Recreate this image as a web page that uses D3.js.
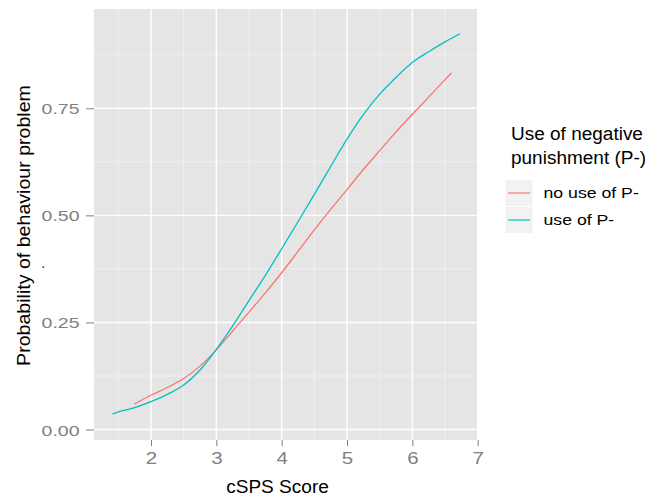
<!DOCTYPE html>
<html>
<head>
<meta charset="utf-8">
<script src="https://cdn.jsdelivr.net/npm/d3@7"></script>
<style>
  html, body { margin: 0; padding: 0; background: #ffffff; }
  svg { display: block; }
  text { font-family: "Liberation Sans", Arial, Helvetica, sans-serif; }
</style>
</head>
<body>
<svg id="chart" width="650" height="498"></svg>
<script>
// ---- data ----
const seriesNames = ["no use of P-", "use of P-"];
const seriesColors = ["#F8766D", "#00BFC4"];

const noUseX = [1.74, 2.0, 2.25, 2.5, 2.75, 3.0, 3.25, 3.5, 3.75, 4.0, 4.25, 4.5, 4.75, 5.0, 5.25, 5.5, 5.75, 6.0, 6.25, 6.5, 6.6];
const noUseY = [0.059, 0.080, 0.098, 0.119, 0.148, 0.186, 0.230, 0.274, 0.319, 0.366, 0.416, 0.466, 0.514, 0.560, 0.607, 0.651, 0.695, 0.736, 0.776, 0.817, 0.833];

const useX = [1.41, 1.5, 1.75, 2.0, 2.25, 2.5, 2.75, 3.0, 3.25, 3.5, 3.75, 4.0, 4.25, 4.5, 4.75, 5.0, 5.25, 5.5, 5.75, 6.0, 6.25, 6.5, 6.73];
const useY = [0.036, 0.041, 0.051, 0.065, 0.082, 0.104, 0.139, 0.187, 0.242, 0.301, 0.360, 0.422, 0.485, 0.549, 0.614, 0.678, 0.735, 0.783, 0.822, 0.857, 0.882, 0.905, 0.924];

const xTicks = [2, 3, 4, 5, 6, 7];
const xMinor = [1.5, 2.5, 3.5, 4.5, 5.5, 6.5];
const yTicks = [0, 0.25, 0.5, 0.75];
const yTickLabels = ["0.00", "0.25", "0.50", "0.75"];
const yMinor = [0.125, 0.375, 0.625, 0.875];

const xTitle = "cSPS Score";
const yTitle = "Probability of behaviour problem";
const legendTitle = ["Use of negative", "punishment (P-)"];

// ---- layout ----
const panel = { left: 94, right: 478, top: 9, bottom: 440 };
const svg = d3.select("#chart");

const x = d3.scaleLinear().domain([1.1275, 7.005]).range([panel.left, panel.right]);
const y = d3.scaleLinear().domain([-0.0245, 0.9818]).range([panel.bottom, panel.top]);

// panel background
svg.append("rect")
  .attr("x", panel.left).attr("y", panel.top)
  .attr("width", panel.right - panel.left).attr("height", panel.bottom - panel.top)
  .attr("fill", "#E5E5E5");

// minor grid
svg.append("g").selectAll("line").data(xMinor).join("line")
  .attr("x1", d => x(d)).attr("x2", d => x(d))
  .attr("y1", panel.top).attr("y2", panel.bottom)
  .attr("stroke", "#F2F2F2").attr("stroke-width", 0.8);
svg.append("g").selectAll("line").data(yMinor).join("line")
  .attr("y1", d => y(d)).attr("y2", d => y(d))
  .attr("x1", panel.left).attr("x2", panel.right)
  .attr("stroke", "#F2F2F2").attr("stroke-width", 0.8);

// major grid
svg.append("g").selectAll("line").data(xTicks).join("line")
  .attr("x1", d => x(d)).attr("x2", d => x(d))
  .attr("y1", panel.top).attr("y2", panel.bottom)
  .attr("stroke", "#FFFFFF").attr("stroke-width", 1.4);
svg.append("g").selectAll("line").data(yTicks).join("line")
  .attr("y1", d => y(d)).attr("y2", d => y(d))
  .attr("x1", panel.left).attr("x2", panel.right)
  .attr("stroke", "#FFFFFF").attr("stroke-width", 1.4);

// axes
const xAxis = d3.axisBottom(x).tickValues(xTicks).tickFormat(d3.format("d")).tickSize(6).tickPadding(0);
const gx = svg.append("g").attr("transform", `translate(0,${panel.bottom})`).call(xAxis);
gx.select(".domain").remove();
gx.selectAll(".tick line").attr("stroke", "#7F7F7F").attr("stroke-width", 1);
gx.selectAll(".tick text").remove();
gx.selectAll(".tick").append("text")
  .attr("transform", "translate(0,24) scale(1.28,1)")
  .attr("text-anchor", "middle")
  .attr("fill", "#808080")
  .attr("font-size", 16)
  .text(d => d3.format("d")(d));

const yAxis = d3.axisLeft(y).tickValues(yTicks).tickFormat((d, i) => yTickLabels[i]).tickSize(8).tickPadding(0);
const gy = svg.append("g").attr("transform", `translate(${panel.left},0)`).call(yAxis);
gy.select(".domain").remove();
gy.selectAll(".tick line").attr("stroke", "#7F7F7F").attr("stroke-width", 1);
gy.selectAll(".tick text").remove();
gy.selectAll(".tick").append("text")
  .attr("transform", "translate(-14.5,5.5) scale(1.3,1)")
  .attr("text-anchor", "end")
  .attr("fill", "#808080")
  .attr("font-size", 15)
  .text((d, i) => yTickLabels[i]);

// lines
const line = d3.line().x(d => x(d[0])).y(d => y(d[1])).curve(d3.curveCatmullRom.alpha(0.5));
const seriesData = [
  d3.zip(noUseX, noUseY),
  d3.zip(useX, useY)
];
svg.append("g").selectAll("path").data(seriesData).join("path")
  .attr("d", line)
  .attr("fill", "none")
  .attr("stroke", (d, i) => seriesColors[i])
  .attr("stroke-width", 1.3);

// axis titles
svg.append("text")
  .attr("transform", `translate(${(panel.left + panel.right) / 2 - 8.5},493) scale(1.03,1)`)
  .attr("text-anchor", "middle")
  .attr("font-size", 18.5)
  .attr("fill", "#000")
  .text(xTitle);

svg.append("text")
  .attr("transform", `translate(30,${(86 + 365) / 2}) rotate(-90) scale(1.12,1)`)
  .attr("text-anchor", "middle")
  .attr("font-size", 17.5)
  .attr("fill", "#000")
  .text(yTitle);

svg.append("text")
  .attr("transform", "translate(44,267) rotate(-90)")
  .attr("text-anchor", "middle")
  .attr("font-size", 14)
  .attr("fill", "#000")
  .text(".");

// legend
const lg = svg.append("g");
lg.selectAll("text.title").data(legendTitle).join("text")
  .attr("class", "title")
  .attr("transform", (d, i) => `translate(511,${140 + i * 23.5}) scale(1.08,1)`)
  .attr("font-size", 17.6)
  .attr("fill", "#000")
  .text(d => d);

const keyH = 27;
const keys = lg.selectAll("g.key").data(seriesNames).join("g")
  .attr("class", "key")
  .attr("transform", (d, i) => `translate(505,${179.5 + i * keyH})`);
keys.append("rect")
  .attr("width", 28).attr("height", keyH)
  .attr("fill", "#F2F2F2").attr("stroke", "#FFFFFF").attr("stroke-width", 1);
keys.append("line")
  .attr("x1", 3).attr("x2", 25)
  .attr("y1", keyH / 2).attr("y2", keyH / 2)
  .attr("stroke", (d, i) => seriesColors[i]).attr("stroke-width", 1.2);
keys.append("text")
  .attr("transform", `translate(38.5,${keyH / 2 + 5}) scale(1.22,1)`)
  .attr("font-size", 14.5)
  .attr("fill", "#000")
  .text(d => d);
</script>
</body>
</html>
